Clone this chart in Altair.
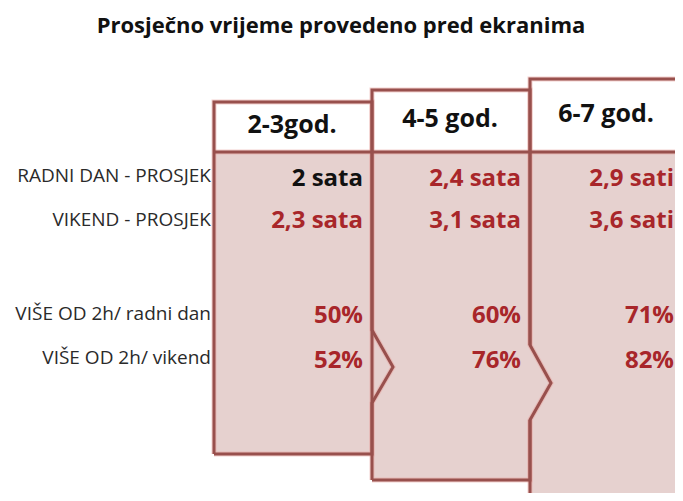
import altair as alt
import pandas as pd

# ---------------- data ----------------
title_text = "Prosječno vrijeme provedeno pred ekranima"
groups = ["2-3god.", "4-5 god.", "6-7 god."]
row_labels = ["RADNI DAN - PROSJEK", "VIKEND - PROSJEK",
              "VIŠE OD 2h/ radni dan", "VIŠE OD 2h/ vikend"]
workday_avg = ["2 sata", "2,4 sata", "2,9 sati"]
weekend_avg = ["2,3 sata", "3,1 sata", "3,6 sati"]
over2h_workday = ["50%", "60%", "71%"]
over2h_weekend = ["52%", "76%", "82%"]
# which cells are emphasised in red (the first workday average is plain black)
emphasis = [[False, True, True], [True, True, True], [True, True, True], [True, True, True]]

# ---------------- layout (page coordinates) ----------------
row_base = [186, 228, 323, 368]
label_base = [182, 226, 320, 364]
col_right = [363, 521, 674]
head_x = [292, 450, 606]
head_base = [133, 127, 122]
label_right = 211
header_line = 152
p_left = [214, 372, 530]
p_right = [372, 530, 700]
p_top = [102, 90, 79]
p_bottom = [454, 480, 520]
chev = {0: (330, 367, 403, 393), 1: (345, 383, 420, 551)}

FILL = "#E6D1CF"
EDGE = "#98504D"
RED = "#A8262A"
FONT = "Open Sans"

# panel bodies
body_df = pd.DataFrame({"x": p_left, "x2": p_right,
                        "y": [header_line] * 3, "y2": p_bottom})
# chevron tips (vertical areas)
tri_rows = []
for i, (a, m, b, tip) in chev.items():
    tri_rows.append({"tri": i, "x": p_right[i], "y": a, "y2": b})
    tri_rows.append({"tri": i, "x": tip, "y": m, "y2": m})
tri_df = pd.DataFrame(tri_rows)

# outlines
seg_rows = []
def add_seg(name, pts):
    for k, (xx, yy) in enumerate(pts):
        seg_rows.append({"seg": name, "x": xx, "y": yy, "o": k})

for i in range(2):
    a, m, b, tip = chev[i]
    add_seg(f"p{i}", [(p_left[i], p_bottom[i]), (p_left[i], p_top[i]), (p_right[i], p_top[i]),
                      (p_right[i], a), (tip, m), (p_right[i], b), (p_right[i], p_bottom[i]),
                      (p_left[i], p_bottom[i])])
add_seg("p2a", [(p_right[2], p_top[2]), (p_left[2], p_top[2]), (p_left[2], chev[1][0])])
add_seg("p2b", [(p_left[2], chev[1][2]), (p_left[2], p_bottom[2])])
add_seg("hdr", [(p_left[0], header_line), (p_right[2], header_line)])
seg_df = pd.DataFrame(seg_rows)

# texts
cells = []
for r, vals in enumerate([workday_avg, weekend_avg, over2h_workday, over2h_weekend]):
    for c, v in enumerate(vals):
        cells.append({"x": col_right[c], "y": row_base[r], "t": v,
                      "col": RED if emphasis[r][c] else "#111111"})
cell_df = pd.DataFrame(cells)
lab_df = pd.DataFrame({"x": [label_right] * 4, "y": label_base, "t": row_labels})
head_df = pd.DataFrame({"x": head_x, "y": head_base, "t": groups})
title_df = pd.DataFrame({"x": [341], "y": [33], "t": [title_text]})

X = alt.X("x:Q", scale=alt.Scale(domain=[8, 675]), axis=None)
Y = alt.Y("y:Q", scale=alt.Scale(domain=[8, 493], reverse=True), axis=None)

bodies = alt.Chart(body_df).mark_rect(color=FILL, clip=True).encode(
    x=X, x2="x2:Q", y=Y, y2="y2:Q")
tips = alt.Chart(tri_df).mark_area(color=FILL, opacity=1, clip=True).encode(
    x=X, y=Y, y2="y2:Q", detail="tri:N")
halo = alt.Chart(seg_df).mark_line(color="#E7A3A0", strokeWidth=5, opacity=0.5, clip=True).encode(
    x=X, y=Y, detail="seg:N", order="o:Q")
lines = alt.Chart(seg_df).mark_line(color=EDGE, strokeWidth=3, clip=True).encode(
    x=X, y=Y, detail="seg:N", order="o:Q")
values = alt.Chart(cell_df).mark_text(font=FONT, fontWeight="bold", fontSize=24,
                                      align="right", baseline="alphabetic").encode(
    x=X, y=Y, text="t:N", color=alt.Color("col:N", scale=None))
labels = alt.Chart(lab_df).mark_text(font=FONT, fontSize=19, align="right",
                                     baseline="alphabetic", color="#2a2a2a").encode(
    x=X, y=Y, text="t:N")
heads = alt.Chart(head_df).mark_text(font=FONT, fontWeight="bold", fontSize=25,
                                     align="center", baseline="alphabetic", color="#111111").encode(
    x=X, y=Y, text="t:N")
title = alt.Chart(title_df).mark_text(font=FONT, fontWeight="bold", fontSize=22,
                                      align="center", baseline="alphabetic", color="#111111").encode(
    x=X, y=Y, text="t:N")

chart = alt.layer(bodies, tips, halo, lines, values, labels, heads, title).properties(
    width=667, height=485, padding=0, autosize=alt.AutoSizeParams(type="none")
).configure_view(stroke=None)

chart.save("out.html", embed_options={"renderer": "svg", "actions": False})
